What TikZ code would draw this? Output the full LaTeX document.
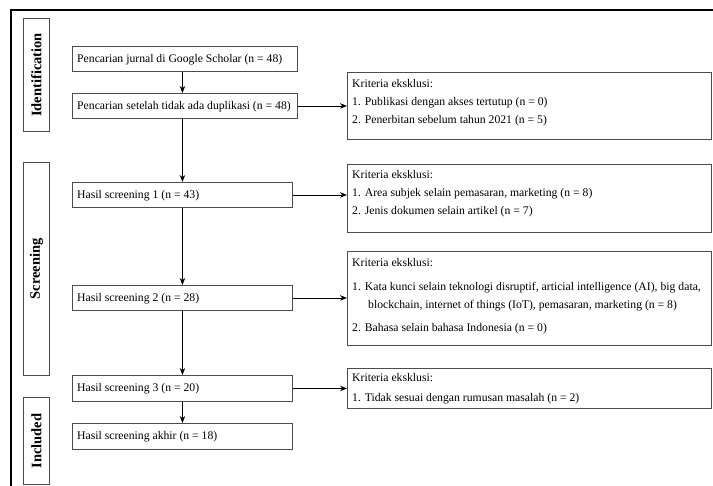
\documentclass[tikz,border=0pt]{standalone}
\usepackage{fontspec}
\setmainfont{Liberation Serif}
\usetikzlibrary{arrows.meta,calc}
\begin{document}
\begin{tikzpicture}[x=1pt,y=-1pt,
  box/.style={draw=black!70,line width=0.9pt,rectangle,inner sep=0pt,anchor=north west},
  side/.style={box},
  txt/.style={anchor=base west,inner sep=0pt,font=\fontsize{11.7}{13}\selectfont},
  sidetxt/.style={rotate=90,inner sep=0pt,font=\fontsize{14.5}{16}\selectfont\bfseries},
  arr/.style={line width=0.8pt,-{Stealth[length=7pt,width=5.5pt]}},
  frame/.style={line width=2pt,black}]
\useasboundingbox (0,0) rectangle (713,486);
% outer frame
\draw[frame] (11,486) -- (11,10) -- (713,10);
% side boxes
\node[side,minimum width=26,minimum height=113] (sid) at (23,18) {};
\node[side,minimum width=26,minimum height=213] (ssc) at (23,162) {};
\node[side,minimum width=26,minimum height=87] (sin) at (23,397) {};
\node[sidetxt] at (sid.center) {Identification};
\node[sidetxt] at (ssc.center) {Screening};
\node[sidetxt] at (sin.center) {Included};
% left column boxes
\node[box,minimum width=225,minimum height=25] (b1) at (72,46) {};
\node[box,minimum width=225,minimum height=25] (b2) at (72,93) {};
\node[box,minimum width=220,minimum height=25] (b3) at (72,182) {};
\node[box,minimum width=220,minimum height=25] (b4) at (72,285) {};
\node[box,minimum width=220,minimum height=26] (b5) at (72,375) {};
\node[box,minimum width=220,minimum height=26] (b6) at (72,423) {};
\node[txt] at ([shift={(5,16.5)}]b1.north west) {Pencarian jurnal di Google Scholar (n = 48)};
\node[txt] at ([shift={(5,16.5)}]b2.north west) {Pencarian setelah tidak ada duplikasi (n = 48)};
\node[txt] at ([shift={(5,16.5)}]b3.north west) {Hasil screening 1 (n = 43)};
\node[txt] at ([shift={(5,16.5)}]b4.north west) {Hasil screening 2 (n = 28)};
\node[txt] at ([shift={(5,17)}]b5.north west) {Hasil screening 3 (n = 20)};
\node[txt] at ([shift={(5,17)}]b6.north west) {Hasil screening akhir (n = 18)};
% exclusion boxes
\node[box,minimum width=364,minimum height=67] (e1) at (347,72) {};
\node[box,minimum width=364,minimum height=68] (e2) at (347,164) {};
\node[box,minimum width=364,minimum height=94] (e3) at (347,251) {};
\node[box,minimum width=364,minimum height=40] (e4) at (347,368) {};
\node[txt] at ([shift={(5,15.5)}]e1.north west) {Kriteria eksklusi:};
\node[txt] at ([shift={(5,34)}]e1.north west) {1. Publikasi dengan akses tertutup (n = 0)};
\node[txt] at ([shift={(5,52)}]e1.north west) {2. Penerbitan sebelum tahun 2021 (n = 5)};
\node[txt] at ([shift={(5,15)}]e2.north west) {Kriteria eksklusi:};
\node[txt] at ([shift={(5,33)}]e2.north west) {1. Area subjek selain pemasaran, marketing (n = 8)};
\node[txt] at ([shift={(5,51)}]e2.north west) {2. Jenis dokumen selain artikel (n = 7)};
\node[txt] at ([shift={(5,15.5)}]e3.north west) {Kriteria eksklusi:};
\node[txt] at ([shift={(5,40)}]e3.north west) {1. Kata kunci selain teknologi disruptif, articial intelligence (AI), big data,};
\node[txt] at ([shift={(21,58)}]e3.north west) {blockchain, internet of things (IoT), pemasaran, marketing (n = 8)};
\node[txt] at ([shift={(5,81)}]e3.north west) {2. Bahasa selain bahasa Indonesia (n = 0)};
\node[txt] at ([shift={(5,14)}]e4.north west) {Kriteria eksklusi:};
\node[txt] at ([shift={(5,34)}]e4.north west) {1. Tidak sesuai dengan rumusan masalah (n = 2)};
% vertical connectors
\draw[arr] (b1.south -| b3.north) -- (b2.north -| b3.north);
\draw[arr] (b2.south -| b3.north) -- (b3.north);
\draw[arr] (b3.south) -- (b4.north);
\draw[arr] (b4.south) -- (b5.north);
\draw[arr] (b5.south) -- (b6.north);
% horizontal connectors
\draw[arr] (b2.east) -- (b2.east -| e1.west);
\draw[arr] (b3.east) -- (b3.east -| e2.west);
\draw[arr] (b4.east) -- (b4.east -| e3.west);
\draw[arr] (b5.east) -- (b5.east -| e4.west);
\end{tikzpicture}
\end{document}
